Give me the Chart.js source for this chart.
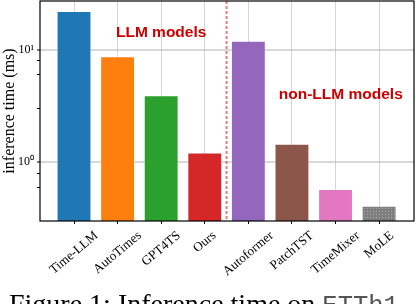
<!DOCTYPE html>
<html>
<head>
<meta charset="utf-8">
<script src="https://cdn.jsdelivr.net/npm/chart.js@4.4.0/dist/chart.umd.min.js"></script>
<style>
  html, body { margin: 0; padding: 0; background: #fff; }
  #wrap { position: relative; width: 416px; height: 304px; overflow: hidden; }
  #caption { position: absolute; left: 9px; top: 290px; font: 28px/28px "Liberation Serif", serif; white-space: nowrap; color: #000; }
  #caption span { font-family: "Liberation Mono", monospace; font-size: 25.5px; color: #555; }
</style>
</head>
<body>
<div id="wrap">
  <canvas id="chart" width="416" height="304"></canvas>
  <div id="caption">Figure 1: Inference time on <span>ETTh1</span></div>
</div>
<script>
const models = ['Time-LLM', 'AutoTimes', 'GPT4TS', 'Ours', 'Autoformer', 'PatchTST', 'TimeMixer', 'MoLE'];
const times = [22.0, 8.7, 3.93, 1.22, 12.0, 1.46, 0.577, 0.41];
const barColors = ['#1f77b4', '#ff7f0e', '#2ca02c', '#d62728', '#9467bd', '#8c564b', '#e377c2', '#7f7f7f'];
const yTicks = [0.4, 0.5, 0.6, 0.7, 0.8, 0.9, 1, 2, 3, 4, 5, 6, 7, 8, 9, 10, 20];
const yTickLabels = { 1: '10\u2070', 10: '10\u00b9' };
const dividerX = 3.5;
const notes = ['LLM models', 'non-LLM models'];
const noteX = [2.0, 6.12];
const noteY = [14, 4.0];

const ROT = 40 * Math.PI / 180;
const serif = '"Liberation Serif", "Times New Roman", serif';
const X_FONT = 13;

// dotted hatch for the last bar
function dotPattern(base) {
    const c = document.createElement('canvas');
    c.width = 3; c.height = 3;
    const g = c.getContext('2d');
    g.fillStyle = base;
    g.fillRect(0, 0, 3, 3);
    g.fillStyle = '#a6a6a6';
    g.fillRect(1, 1, 1, 1);
    return g.createPattern(c, 'repeat');
}
const fills = barColors.map((c, i) => i === barColors.length - 1 ? dotPattern(c) : c);

const overlay = {
    id: 'overlay',
    afterDraw(chart) {
        const { ctx, chartArea: a, scales: { x, y } } = chart;
        ctx.save();
        // divider between LLM and non-LLM models
        ctx.strokeStyle = 'rgba(226, 80, 80, 0.75)';
        ctx.lineWidth = 2;
        ctx.setLineDash([3, 2]);
        const dx = x.getPixelForValue(dividerX);
        ctx.beginPath();
        ctx.moveTo(dx, a.top);
        ctx.lineTo(dx, a.bottom);
        ctx.stroke();
        ctx.setLineDash([]);
        // notes
        ctx.fillStyle = '#cc0000';
        ctx.font = 'bold 15.5px "Liberation Sans", Arial, sans-serif';
        ctx.textAlign = 'center';
        ctx.textBaseline = 'middle';
        notes.forEach((t, i) => ctx.fillText(t, x.getPixelForValue(noteX[i]), y.getPixelForValue(noteY[i])));
        // rotated category labels, centred under each tick like matplotlib
        ctx.fillStyle = '#000';
        ctx.font = X_FONT + 'px ' + serif;
        x.ticks.forEach(t => {
            const label = models[t.value];
            const w = ctx.measureText(label).width;
            const h = X_FONT;
            const boxH = w * Math.sin(ROT) + h * Math.cos(ROT);
            ctx.save();
            ctx.translate(x.getPixelForValue(t.value), a.bottom + 8 + boxH / 2);
            ctx.rotate(-ROT);
            ctx.fillText(label, 0, 0);
            ctx.restore();
        });
        // frame
        ctx.strokeStyle = '#000';
        ctx.lineWidth = 1.2;
        ctx.strokeRect(a.left, a.top, a.right - a.left, a.bottom - a.top);
        ctx.restore();
    }
};

new Chart(document.getElementById('chart'), {
    type: 'bar',
    data: {
        datasets: [{
            data: times.map((v, i) => ({ x: i, y: v })),
            backgroundColor: fills,
            borderColor: 'rgba(255, 255, 255, 0.35)',
            borderWidth: 1,
            barPercentage: 0.8,
            categoryPercentage: 1.0
        }]
    },
    options: {
        responsive: false,
        devicePixelRatio: 1,
        animation: false,
        layout: { padding: { top: 1, right: 2, left: 0, bottom: 0 } },
        plugins: { legend: { display: false }, tooltip: { enabled: false } },
        scales: {
            x: {
                type: 'linear',
                min: -0.78,
                max: 7.8,
                offset: false,
                z: 1,
                afterBuildTicks: s => { s.ticks = models.map((m, i) => ({ value: i })); },
                afterFit: s => { s.height = 83; s.paddingLeft = 0; s.paddingRight = 0; },
                border: { display: false },
                grid: { offset: false, color: 'rgba(170, 170, 170, 0.5)', lineWidth: 1, tickColor: '#000', tickLength: 3 },
                ticks: { display: false, autoSkip: false }
            },
            y: {
                type: 'logarithmic',
                min: 0.336,
                max: 27,
                z: 1,
                afterBuildTicks: s => { s.ticks = yTicks.map(v => ({ value: v, major: v in yTickLabels })); },
                afterFit: s => { s.width = 40; s.paddingTop = 0; s.paddingBottom = 0; },
                border: { display: false },
                grid: {
                    color: c => c.tick && yTickLabels[c.tick.value] ? 'rgba(190, 190, 190, 0.6)' : 'rgba(0,0,0,0)',
                    lineWidth: c => c.tick && yTickLabels[c.tick.value] ? 2 : 1,
                    tickColor: '#000',
                    tickWidth: 1,
                    tickLength: 3
                },
                ticks: {
                    padding: 3,
                    color: '#000',
                    font: { family: serif, size: 12 },
                    callback: v => yTickLabels[v] || ''
                },
                title: {
                    display: true,
                    text: 'inference time (ms)',
                    color: '#000',
                    font: { family: serif, size: 16 },
                    padding: 0
                }
            }
        }
    },
    plugins: [overlay]
});
</script>
</body>
</html>
